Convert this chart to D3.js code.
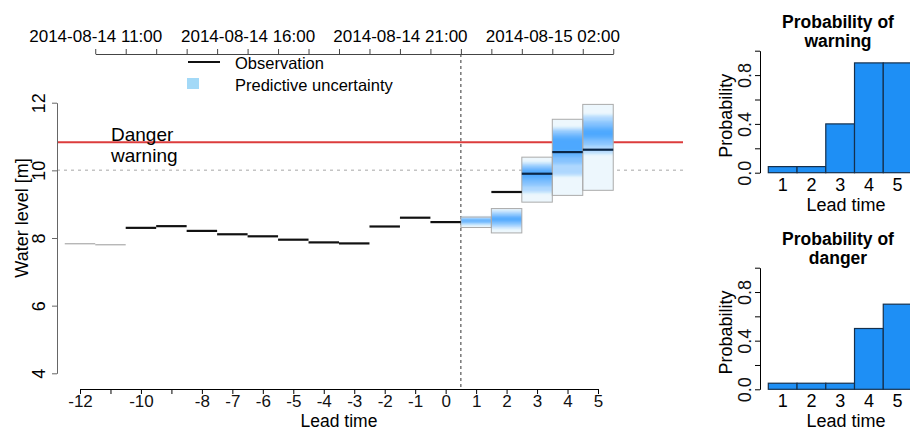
<!DOCTYPE html>
<html>
<head>
<meta charset="utf-8">
<script src="https://cdn.jsdelivr.net/npm/d3@7"></script>
<style>
  body { margin: 0; background: #fff; }
  svg { font-family: "Liberation Sans", Arial, Helvetica, sans-serif; }
</style>
</head>
<body>
<div id="holder"></div>
<script>
const w = 910;
const h = 430;

// DATA
const obsLead = [-12, -11, -10, -9, -8, -7, -6, -5, -4, -3, -2, -1, 0, 1, 2, 3, 4, 5];
const obsLevel = [7.83, 7.80, 8.30, 8.35, 8.21, 8.11, 8.05, 7.95, 7.87, 7.84, 8.34, 8.60, 8.47, null, 9.36, 9.90, 10.54, 10.61];

const fcLead = [1, 2, 3, 4, 5];
const fcMin = [8.31, 8.15, 9.06, 9.26, 9.41];
const fcQ10 = [8.40, 8.30, 9.35, 9.85, 10.50];
const fcQ20 = [8.44, 8.40, 9.55, 10.20, 10.75];
const fcQ30 = [8.47, 8.47, 9.70, 10.40, 10.90];
const fcQ40 = [8.50, 8.52, 9.82, 10.55, 11.00];
const fcQ60 = [8.54, 8.60, 9.98, 10.95, 11.20];
const fcQ70 = [8.56, 8.64, 10.05, 11.05, 11.30];
const fcQ80 = [8.58, 8.70, 10.12, 11.15, 11.45];
const fcQ90 = [8.60, 8.80, 10.22, 11.25, 11.62];
const fcMax = [8.62, 8.87, 10.39, 11.51, 11.95];

const warningLevel = 10.0;
const dangerLevel = 10.83;

const probLead = [1, 2, 3, 4, 5];
const probWarning = [0.05, 0.05, 0.4, 0.9, 0.9];
const probDanger = [0.05, 0.05, 0.05, 0.5, 0.7];

const bottomTicks = [-12, -11, -10, -9, -8, -7, -6, -5, -4, -3, -2, -1, 0, 1, 2, 3, 4, 5];
const bottomHidden = [-11, -9];
const yTicks = [4, 6, 8, 10, 12];
const probTicks = [0, 0.2, 0.4, 0.6, 0.8, 1.0];
const probLabels = [0, 0.4, 0.8];
const topStart = new Date(2014, 7, 14, 11);
const topEnd = new Date(2014, 7, 15, 4);
const topLabels = ["2014-08-14 11:00", "2014-08-14 16:00", "2014-08-14 21:00", "2014-08-15 02:00"];

// SVG
const svg = d3.select("#holder")
    .append("svg")
    .attr("width", w)
    .attr("height", h)

// SCALES
const x = d3.scaleLinear().domain([-12, 5]).range([80, 598]);
const y = d3.scaleLinear().domain([4, 12]).range([373.3, 102.7]);
const tTime = d3.scaleTime().domain([topStart, topEnd]).range([x(-11.5), x(5.5)]);

// THRESHOLD LINES
svg.append("line")
    .attr("x1", 57).attr("x2", 683)
    .attr("y1", y(warningLevel)).attr("y2", y(warningLevel))
    .attr("stroke", "#c4c4c4").attr("stroke-width", 1.5).attr("stroke-dasharray", "3,4")

svg.append("line")
    .attr("x1", 57).attr("x2", 683)
    .attr("y1", y(dangerLevel)).attr("y2", y(dangerLevel))
    .attr("stroke", "#dc3c3c").attr("stroke-width", 2)

svg.append("text").attr("x", 111).attr("y", 141).attr("font-size", 19).text("Danger")
svg.append("text").attr("x", 111).attr("y", 162).attr("font-size", 19).text("warning")

// NOW LINE
svg.append("line")
    .attr("x1", x(0.5)).attr("x2", x(0.5))
    .attr("y1", 54).attr("y2", 389)
    .attr("stroke", "#333").attr("stroke-width", 1).attr("stroke-dasharray", "3,3")

// UNCERTAINTY BOXES
const defs = svg.append("defs")
defs.append("filter").attr("id", "soft")
    .attr("x", "-5%").attr("y", "-20%").attr("width", "110%").attr("height", "140%")
    .append("feGaussianBlur").attr("stdDeviation", "0 1.6")

const fc = fcLead.map((l, i) => ({
    lead: l, min: fcMin[i], max: fcMax[i],
    bands: [[fcQ10[i], fcQ90[i]], [fcQ20[i], fcQ80[i]], [fcQ30[i], fcQ70[i]], [fcQ40[i], fcQ60[i]]]
}))

svg.selectAll("rect.box")
    .data(fc)
    .enter()
    .append("rect")
    .attr("class", "box")
    .attr("x", d => x(d.lead - 0.5))
    .attr("y", d => y(d.max))
    .attr("width", d => x(d.lead + 0.5) - x(d.lead - 0.5))
    .attr("height", d => y(d.min) - y(d.max))
    .attr("fill", "#edf7fd")

const bandG = svg.append("g").attr("filter", "url(#soft)")
fc.forEach(d => {
    d.bands.forEach(b => {
        bandG.append("rect")
            .attr("x", x(d.lead - 0.5))
            .attr("y", y(b[1]))
            .attr("width", x(d.lead + 0.5) - x(d.lead - 0.5))
            .attr("height", y(b[0]) - y(b[1]))
            .attr("fill", "#1e90ff")
            .attr("fill-opacity", 0.3)
    })
})

svg.selectAll("rect.outline")
    .data(fc)
    .enter()
    .append("rect")
    .attr("class", "outline")
    .attr("x", d => x(d.lead - 0.5))
    .attr("y", d => y(d.max))
    .attr("width", d => x(d.lead + 0.5) - x(d.lead - 0.5))
    .attr("height", d => y(d.min) - y(d.max))
    .attr("fill", "none")
    .attr("stroke", "#aaa")
    .attr("stroke-width", 1)

// OBSERVATIONS
const obs = obsLead.map((l, i) => ({ lead: l, v: obsLevel[i] })).filter(d => d.v !== null)

svg.selectAll("line.obs")
    .data(obs)
    .enter()
    .append("line")
    .attr("class", "obs")
    .attr("x1", d => x(d.lead - 0.5))
    .attr("x2", d => x(d.lead + 0.5))
    .attr("y1", d => y(d.v))
    .attr("y2", d => y(d.v))
    .attr("stroke", d => d.lead < -10 ? "#aaa" : (d.lead > 2 ? "#0b2747" : "#111"))
    .attr("stroke-width", d => d.lead < -10 ? 1.2 : 2.2)

// BOTTOM AXIS
const xAxis = d3.axisBottom(x)
    .tickValues(bottomTicks)
    .tickSize(5)
    .tickSizeOuter(0)
    .tickPadding(1)
    .tickFormat(d => bottomHidden.includes(d) ? "" : String(d))

const gx = svg.append("g")
    .attr("transform", "translate(0,389)")
    .call(xAxis)
gx.attr("font-size", 17).attr("font-family", null)
gx.selectAll("text").attr("fill", "#111")

svg.append("text").attr("x", x(-3.5)).attr("y", 426.5)
    .attr("text-anchor", "middle").attr("font-size", 17.5).text("Lead time")

// TOP AXIS
const fmt = d3.timeFormat("%Y-%m-%d %H:%M")
const topAxis = d3.axisTop(tTime)
    .ticks(d3.timeHour.every(1))
    .tickSize(5)
    .tickSizeOuter(0)
    .tickPadding(7)
    .tickFormat(d => topLabels.includes(fmt(d)) ? fmt(d) : "")

const gt = svg.append("g")
    .attr("transform", "translate(0,54)")
    .call(topAxis)
gt.attr("font-size", 17).attr("font-family", null)
gt.selectAll("path, line").attr("stroke", "#444")

// Y AXIS
const yAxis = d3.axisLeft(y)
    .tickValues(yTicks)
    .tickSize(5)
    .tickSizeOuter(0)

const gy = svg.append("g")
    .attr("transform", "translate(57,0)")
    .call(yAxis)
gy.attr("font-size", 18).attr("font-family", null)
gy.selectAll("path, line").attr("stroke", "#666")
gy.selectAll("text")
    .attr("x", null).attr("dy", null)
    .attr("text-anchor", "middle")
    .attr("transform", "translate(-12,0) rotate(-90)")

svg.append("text")
    .attr("transform", "translate(28,218) rotate(-90)")
    .attr("text-anchor", "middle")
    .attr("font-size", 18)
    .text("Water level [m]")

// LEGEND
svg.append("line").attr("x1", 188).attr("x2", 220).attr("y1", 62).attr("y2", 62)
    .attr("stroke", "#111").attr("stroke-width", 2)
svg.append("text").attr("x", 235).attr("y", 69).attr("font-size", 16.5).text("Observation")
svg.append("rect").attr("x", 187).attr("y", 78).attr("width", 12).attr("height", 11)
    .attr("fill", "#a3d9f7")
svg.append("text").attr("x", 235).attr("y", 91).attr("font-size", 16.5).text("Predictive uncertainty")

// PROBABILITY BAR CHARTS
function drawProb(values, top, bottom, word) {
    const py = d3.scaleLinear().domain([0, 1]).range([bottom, top])
    const px = d3.scaleBand().domain(probLead).range([768.3, 912]).padding(0)

    svg.append("g")
        .selectAll("rect")
        .data(values)
        .enter()
        .append("rect")
        .attr("x", (d, i) => px(probLead[i]))
        .attr("y", d => py(d))
        .attr("width", px.bandwidth())
        .attr("height", d => py(0) - py(d))
        .attr("fill", "#1e8ff5")
        .attr("stroke", "#15304d")
        .attr("stroke-width", 1.2)

    const ga = svg.append("g")
        .attr("transform", "translate(760,0)")
        .call(d3.axisLeft(py).tickValues(probTicks).tickSize(5).tickSizeOuter(0)
            .tickFormat(d => probLabels.includes(d) ? d3.format(".1f")(d) : ""))
    ga.attr("font-size", 18).attr("font-family", null)
    ga.selectAll("text")
        .attr("x", null).attr("dy", null)
        .attr("text-anchor", "middle")
        .attr("transform", "translate(-9,0) rotate(-90)")
        .attr("fill", "#111")

    svg.append("g")
        .selectAll("text")
        .data(probLead)
        .enter()
        .append("text")
        .attr("x", d => px(d) + px.bandwidth() / 2)
        .attr("y", bottom + 18)
        .attr("text-anchor", "middle")
        .attr("font-size", 18)
        .text(d => d)

    svg.append("text").attr("x", 846).attr("y", bottom + 38)
        .attr("text-anchor", "middle").attr("font-size", 18).text("Lead time")

    svg.append("text")
        .attr("transform", `translate(732,${(top + bottom) / 2 + 4}) rotate(-90)`)
        .attr("text-anchor", "middle").attr("font-size", 18).text("Probability")

    svg.append("text").attr("x", 838).attr("y", top - 23)
        .attr("text-anchor", "middle").attr("font-size", 17.5).attr("font-weight", "bold")
        .text("Probability of")
    svg.append("text").attr("x", 838).attr("y", top - 4)
        .attr("text-anchor", "middle").attr("font-size", 17.5).attr("font-weight", "bold")
        .text(word)
}

drawProb(probWarning, 50.7, 172.7, "warning")
drawProb(probDanger, 267.7, 389.3, "danger")
</script>
</body>
</html>
